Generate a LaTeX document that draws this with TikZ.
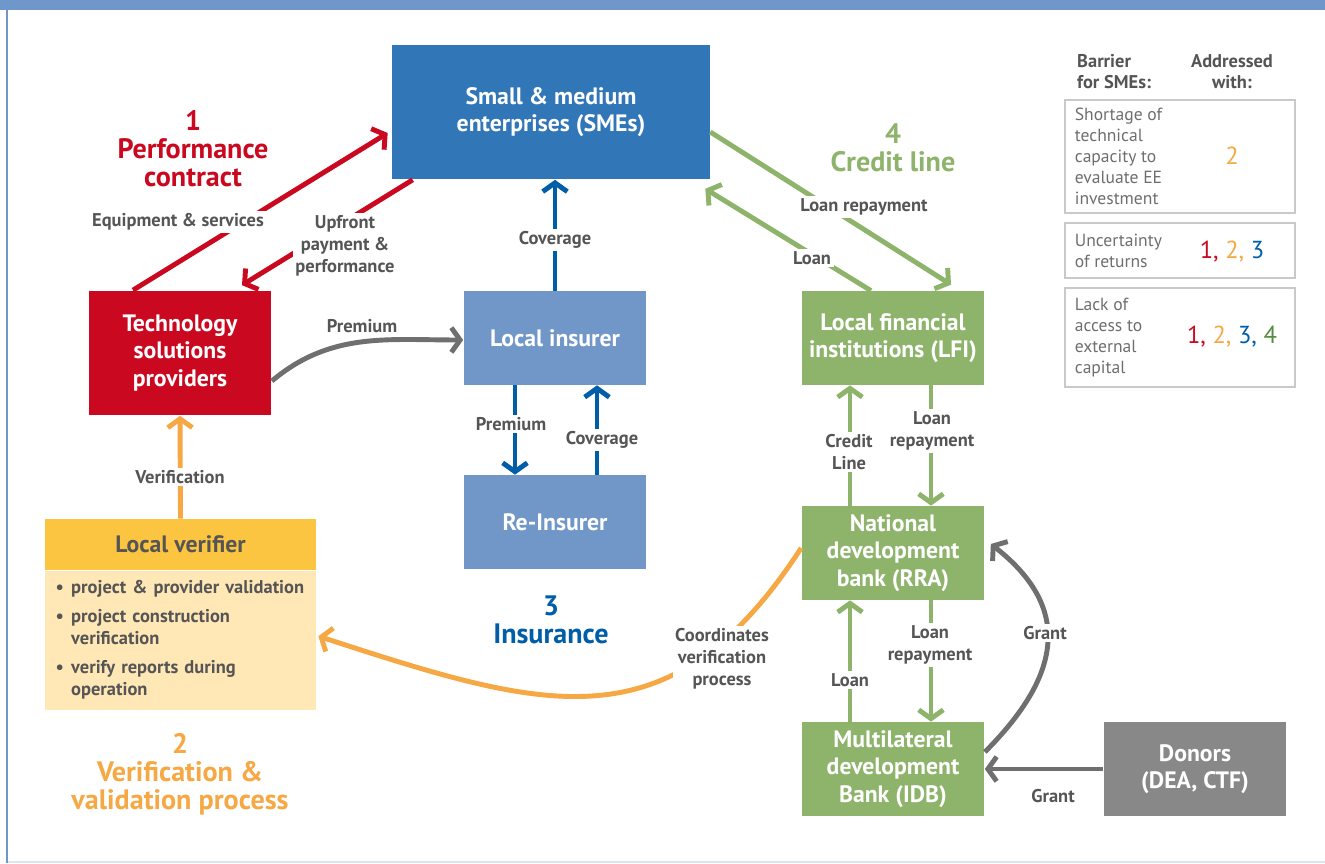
\documentclass[tikz,border=0pt]{standalone}
\usepackage{fontspec}
\setmainfont{PT Sans}[FakeStretch=1.0]
\usetikzlibrary{arrows.meta,calc}
\definecolor{frameblue}{HTML}{7097C9}
\definecolor{smeblue}{HTML}{3176B7}
\definecolor{insblue}{HTML}{7097C8}
\definecolor{darkblue}{HTML}{005EA8}
\definecolor{tspred}{HTML}{CA081F}
\definecolor{credgreen}{HTML}{8DB46A}
\definecolor{darkgreen}{HTML}{548C3F}
\definecolor{verorange}{HTML}{F5A843}
\definecolor{verhead}{HTML}{FBC541}
\definecolor{verbody}{HTML}{FFE7B6}
\definecolor{donorgrey}{HTML}{888888}
\definecolor{arrowgrey}{HTML}{6F6F6F}
\definecolor{textgrey}{HTML}{555555}
\definecolor{lgdgrey}{HTML}{C9C9C9}
\newcommand\boxfont{\bfseries\fontsize{13.5}{15.5}\selectfont}
\newcommand\lblfont{\bfseries\fontsize{10.5}{12.5}\selectfont}
\newcommand\ttlfont{\bfseries\fontsize{16}{16}\selectfont}
\newcommand\lgdfont{\fontsize{10}{12}\selectfont}
\newcommand\lgdhfont{\bfseries\fontsize{10.5}{12}\selectfont}
\newcommand\lgdnfont{\fontsize{14}{14}\selectfont}

\begin{document}
\begin{tikzpicture}[x=0.02cm, y=-0.02cm,
  box/.style={inner sep=2pt, align=center, font=\boxfont, text=white, minimum width=3.66cm, minimum height=1.88cm},
  lbl/.style={font=\lblfont, text=textgrey, align=center, fill=white, inner sep=1.5pt},
  ttl/.style={font=\ttlfont, align=center},
  arr/.style={line width=2.8pt, -{Straight Barb[length=5pt,width=14pt]}},
  lgd/.style={draw=lgdgrey, line width=1.6pt, minimum width=4.6cm},
  lgdtxt/.style={font=\lgdfont, text=textgrey!85, align=left, anchor=west},
]
  \useasboundingbox (0,0) rectangle (1325,864);
  % frame
  \fill[frameblue] (0,0) rectangle (1325,10);
  \draw[frameblue, line width=1.7pt] (7,10) -- (7,863);
  \draw[frameblue!25, line width=1pt] (8,862) -- (1325,862);

  % actors
  \node[box, fill=smeblue, minimum width=6.36cm, minimum height=2.7cm] (sme) at (551,112) {Small \& medium\\enterprises (SMEs)};
  \node[box, fill=tspred, minimum height=2.5cm] (tps) at (180,353) {Technology\\solutions\\providers};
  \node[box, fill=insblue] (ins) at (555,338) {Local insurer};
  \node[box, fill=insblue] (rei) at (555,522) {Re-Insurer};
  \node[box, fill=credgreen] (lfi) at (893,338) {Local financial\\institutions (LFI)};
  \node[box, fill=credgreen] (nat) at (893,553) {National\\development\\bank (RRA)};
  \node[box, fill=credgreen] (mdb) at (893,769) {Multilateral\\development\\Bank (IDB)};
  \node[box, fill=donorgrey] (dnr) at (1195,769) {Donors\\(DEA, CTF)};
  \node[box, fill=verhead, text=textgrey, minimum width=5.42cm, minimum height=1.02cm] (lvh) at (180.5,544.5) {Local verifier};
  \node[fill=verbody, font=\lblfont, text=textgrey, align=left, anchor=north, text width=5.0cm, inner xsep=0.21cm, minimum height=2.78cm] (lvb) at (lvh.south)
    {\begin{tabular}{@{}l@{\hspace{0.4em}}l@{}}
      \textbullet & project \& provider validation\\[4pt]
      \textbullet & project construction\\
       & verification\\[4pt]
      \textbullet & verify reports during\\
       & operation
     \end{tabular}};

  % 1 performance contract
  \draw[arr, tspred] ($(tps.north)+(-47,0)$) -- ($(sme.west)+(-4,21)$);
  \draw[arr, tspred] ($(sme.south west)+(21,0)$) -- ($(tps.north)+(62,-5)$);
  \node[lbl] (eqs) at (178,222) {Equipment \& services};
  \node[lbl] (upf) at (345,246) {Upfront\\payment \&\\performance};
  \draw[arr, arrowgrey] ($(tps.east)+(0,28)$) to[out=40, in=180] ($(ins.west)+(0,2)$);
  \node[lbl, fill=none] (prm1) at (362,326) {Premium};

  % 3 insurance
  \draw[arr, darkblue] (ins.north) -- (ins.north |- sme.south);
  \draw[arr, darkblue] ($(ins.south)+(-40,0)$) -- ($(rei.north)+(-40,0)$);
  \draw[arr, darkblue] ($(rei.north)+(42,0)$) -- ($(ins.south)+(42,0)$);
  \node[lbl] (cov1) at (555,240) {Coverage};
  \node[lbl] (prm2) at (511,424) {Premium};
  \node[lbl] (cov2) at (602,440) {Coverage};

  % 4 credit line
  \draw[arr, credgreen] ($(sme.east)+(0,20)$) -- ($(lfi.north)+(58,-6)$);
  \draw[arr, credgreen] ($(lfi.north)+(-22,0)$) -- ($(sme.south east)+(-5,9)$);
  \node[lbl] (lrp1) at (864,207) {Loan repayment};
  \node[lbl] (ln1) at (812,258) {Loan};
  \draw[arr, credgreen] ($(nat.north)+(-43,0)$) -- ($(lfi.south)+(-43,0)$);
  \draw[arr, credgreen] ($(lfi.south)+(38,0)$) -- ($(nat.north)+(38,0)$);
  \node[lbl] (crl) at (849,452) {Credit\\Line};
  \node[lbl] (lrp2) at (932,431) {Loan\\repayment};
  \draw[arr, credgreen] ($(mdb.north)+(-43,0)$) -- ($(nat.south)+(-43,0)$);
  \draw[arr, credgreen] ($(nat.south)+(38,0)$) -- ($(mdb.north)+(38,0)$);
  \node[lbl] (ln2) at (850,680) {Loan};
  \node[lbl] (lrp3) at (930,645) {Loan\\repayment};

  % grants
  \draw[arr, arrowgrey] ($(mdb.east)+(0,-17)$) to[out=45, in=-38, looseness=1.3] ($(nat.east)+(6,-9)$);
  \draw[arr, arrowgrey] (dnr.west) -- (mdb.east);
  \node[lbl] (gr1) at (1045,633) {Grant};
  \node[lbl, fill=none] (gr2) at (1053,796) {Grant};

  % 2 verification
  \draw[arr, verorange] (lvh.north) -- (tps.south);
  \node[lbl] (vrf) at (180,477) {Verification};
  \draw[arr, verorange] ($(nat.west)+(0,-5)$) to[out=237, in=-18, looseness=1.25] ($(lvb.east)+(2,-4)$);
  \node[lbl] (cvp) at (722,659) {Coordinates\\verification\\process};

  % titles
  \node[ttl, tspred] (t1) at (193,149) {1\\Performance\\contract};
  \node[ttl, credgreen] (t4) at (893,148) {4\\Credit line};
  \node[ttl, darkblue] (t3) at (551,620) {3\\Insurance};
  \node[ttl, verorange] (t2) at (180,774) {2\\Verification \&\\validation process};

  % legend
  \node[font=\lgdhfont, text=textgrey, align=left, anchor=west] (lgb) at (1071,72) {Barrier\\for SMEs:};
  \node[font=\lgdhfont, text=textgrey, align=center] (lga) at (1232,72) {Addressed\\with:};
  \node[lgd, minimum height=2.26cm] (lg1) at (1180,156.5) {};
  \node[lgd, minimum height=1.1cm] (lg2) at (1180,250.5) {};
  \node[lgd, minimum height=1.98cm] (lg3) at (1180,337.5) {};
  \node[lgdtxt] (lt1) at ($(lg1.west)+(5,0)$) {Shortage of\\technical\\capacity to\\evaluate EE\\investment};
  \node[lgdtxt] (lt2) at ($(lg2.west)+(5,0)$) {Uncertainty\\of returns};
  \node[lgdtxt] (lt3) at ($(lg3.west)+(5,0)$) {Lack of\\access to\\external\\capital};
  \node[font=\lgdnfont] (ad1) at (1232,156) {\color{verorange}2};
  \node[font=\lgdnfont] (ad2) at (1232,252) {\color{tspred}1, \color{verorange}2, \color{darkblue}3};
  \node[font=\lgdnfont] (ad3) at (1232,337) {\color{tspred}1, \color{verorange}2, \color{darkblue}3, \color{darkgreen}4};
\end{tikzpicture}
\end{document}
